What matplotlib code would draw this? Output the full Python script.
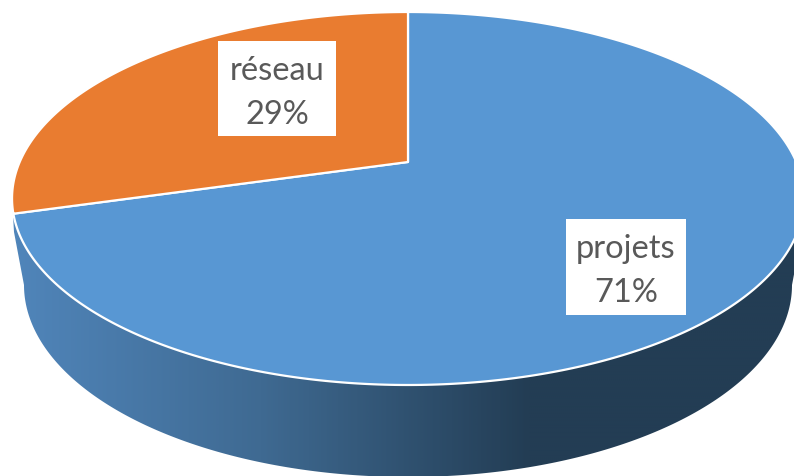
import numpy as np
import matplotlib
matplotlib.use("Agg")
import matplotlib.pyplot as plt
from matplotlib.patches import Polygon
from matplotlib.colors import LinearSegmentedColormap

categories = ["projets", "réseau"]
values = [70.6, 29.4]
colors = ["#5897D3", "#E97C30"]
label_pos = [(626, 271), (277, 93)]
label_box = [(566, 219, 686, 315), (218, 41, 336, 136)]

W, H = 794, 476
fig = plt.figure(figsize=(W / 100, H / 100), dpi=100)
ax = fig.add_axes([0, 0, 1, 1])

# perspective projection of the unit disc onto the tilted top face
CX, APEX_Y, R, C, A = 408.0, 162.0, 388.3, 0.1957, -147.65


def project(theta):
    """theta measured clockwise from the top of the pie."""
    u, v = np.sin(theta), np.cos(theta)
    d = 1 + C * v
    return CX + R * u / d, (A * v + APEX_Y) / d


# side wall: gradient image clipped to the extruded outline
order = np.linspace(0, np.pi, 300)
lx = 408 + 384 * np.cos(order)
ly = 285 + 192 * np.sin(order)
wall = np.column_stack([np.r_[804, 802, lx, 14, 12, 408],
                        np.r_[198, 232, ly, 232, 198, 198]])
cmap = LinearSegmentedColormap.from_list("wall", ["#5085BA", "#3F6A92", "#233D54", "#233D54"])
xs = np.linspace(0, 800, 400)
grad = np.tile(np.interp(xs, [14, 260, 530, 800], [0, 1 / 3, 2 / 3, 1]), (2, 1))
im = ax.imshow(grad, extent=(0, 800, H, 0), cmap=cmap, vmin=0, vmax=1,
               aspect="auto", zorder=1, interpolation="bilinear")
clip = Polygon(wall, closed=True, transform=ax.transData, facecolor="none", edgecolor="none")
ax.add_patch(clip)
im.set_clip_path(clip)
ax.set_xlim(0, W)
ax.set_ylim(H, 0)
ax.axis("off")

# top face slices, drawn from the values
total = sum(values)
start = 0.0
for val, col in zip(values, colors):
    span = 2 * np.pi * val / total
    th = np.linspace(start, start + span, 400)
    x, y = project(th)
    pts = np.column_stack([np.r_[CX, x], np.r_[APEX_Y, y]])
    ax.add_patch(Polygon(pts, closed=True, facecolor=col, edgecolor="white",
                         linewidth=1.6, joinstyle="round", zorder=2))
    start += span

# labels on white boxes
for name, val, (tx, ty), (x0, y0, x1, y1) in zip(categories, values, label_pos, label_box):
    ax.add_patch(Polygon([(x0, y0), (x1, y0), (x1, y1), (x0, y1)], closed=True,
                         facecolor="white", edgecolor="none", zorder=3))
    ax.text(tx, ty, f"{name}\n{val:.0f}%", ha="center", va="center", family="Lato",
            fontsize=23.5, color="#595959", linespacing=1.56, zorder=4)

fig.savefig("out.png", dpi=100)
